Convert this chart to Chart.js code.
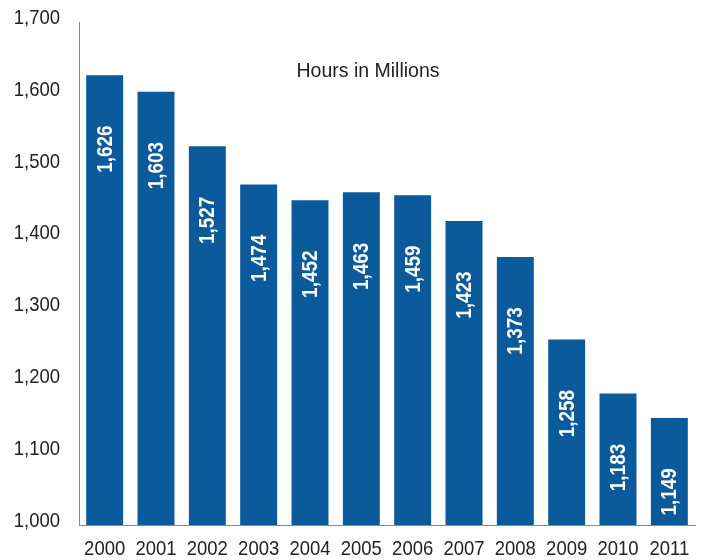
<!DOCTYPE html>
<html>
<head>
<meta charset="utf-8">
<script src="https://cdn.jsdelivr.net/npm/chart.js@4/dist/chart.umd.min.js"></script>
<style>
  html, body { margin: 0; padding: 0; background: #fff; }
  #wrap { width: 707px; height: 560px; }
</style>
</head>
<body>
<div id="wrap"><canvas id="c" width="707" height="560"></canvas></div>
<script>
// Annual hours, in millions
const years = ['2000','2001','2002','2003','2004','2005','2006','2007','2008','2009','2010','2011'];
const hours = [1626, 1603, 1527, 1474, 1452, 1463, 1459, 1423, 1373, 1258, 1183, 1149];
const yTicks = [1000, 1100, 1200, 1300, 1400, 1500, 1600, 1700];
const unitLabel = 'Hours in Millions';

const BAR_BLUE = '#0b5a9c';
const AXIS_GREY = '#8a8a8a';
const TEXT_DARK = '#222222';
const CONDENSE = 0.88;           // horizontal squeeze for a condensed face
const fmt = v => Number(v).toLocaleString('en-US');

// Draw text squeezed horizontally around (x, y)
function condensedText(ctx, text, x, y, align, squeeze = CONDENSE) {
  ctx.save();
  ctx.translate(x, y);
  ctx.scale(squeeze, 1);
  ctx.textAlign = align;
  ctx.fillText(text, 0, 0);
  ctx.restore();
}

// Axis tick labels in a condensed style
const condensedTicks = {
  id: 'condensedTicks',
  afterDraw(chart) {
    const { ctx, scales } = chart;
    ctx.save();
    ctx.fillStyle = TEXT_DARK;
    ctx.font = '21px "Liberation Sans", Arial, sans-serif';
    ctx.textBaseline = 'middle';
    const y = scales.y;
    yTicks.forEach(v => {
      condensedText(ctx, fmt(v), y.right - 19, y.getPixelForValue(v) - 4, 'right');
    });
    const x = scales.x;
    years.forEach((lab, i) => {
      condensedText(ctx, lab, x.getPixelForTick(i), x.top + 24, 'center');
    });
    ctx.restore();
  }
};

// Vertical value labels inside each bar
const barValueLabels = {
  id: 'barValueLabels',
  afterDatasetsDraw(chart) {
    const { ctx } = chart;
    const meta = chart.getDatasetMeta(0);
    const data = chart.data.datasets[0].data;
    ctx.save();
    ctx.fillStyle = '#ffffff';
    ctx.font = 'bold 22px "Liberation Sans", Arial, sans-serif';
    ctx.textBaseline = 'middle';
    meta.data.forEach((bar, i) => {
      const h = bar.base - bar.y;
      const offset = Math.min(74, 0.2 * h + 20);
      ctx.save();
      ctx.translate(bar.x + 1, bar.y + offset);
      ctx.rotate(-Math.PI / 2);
      condensedText(ctx, fmt(data[i]), 0, 0, 'center', 0.86);
      ctx.restore();
    });
    ctx.restore();
  }
};

// Unit caption inside the plot area
const unitCaption = {
  id: 'unitCaption',
  afterDraw(chart) {
    const { ctx, chartArea } = chart;
    ctx.save();
    ctx.fillStyle = TEXT_DARK;
    ctx.font = '19.5px "Liberation Sans", Arial, sans-serif';
    ctx.textAlign = 'center';
    ctx.textBaseline = 'middle';
    ctx.fillText(unitLabel, chartArea.left + 289, chartArea.top + 50);
    ctx.restore();
  }
};

new Chart(document.getElementById('c'), {
  type: 'bar',
  data: {
    labels: years,
    datasets: [{
      data: hours,
      backgroundColor: BAR_BLUE,
      borderWidth: 0,
      barPercentage: 0.72,
      categoryPercentage: 1.0
    }]
  },
  options: {
    responsive: false,
    animation: false,
    layout: { padding: { top: 22, right: 12, left: 0, bottom: 0 } },
    plugins: {
      legend: { display: false },
      tooltip: { enabled: false },
      title: { display: false }
    },
    scales: {
      x: {
        grid: { display: false, drawTicks: false },
        border: { display: true, color: AXIS_GREY, width: 1 },
        ticks: { display: false, autoSkip: false },
        afterFit(scale) { scale.height = 35; }
      },
      y: {
        min: yTicks[0],
        max: yTicks[yTicks.length - 1],
        afterBuildTicks(scale) { scale.ticks = yTicks.map(v => ({ value: v })); },
        grid: { display: false, drawTicks: false },
        border: { display: true, color: AXIS_GREY, width: 1 },
        ticks: { display: false },
        afterFit(scale) { scale.width = 79; }
      }
    }
  },
  plugins: [barValueLabels, unitCaption, condensedTicks]
});
</script>
</body>
</html>
